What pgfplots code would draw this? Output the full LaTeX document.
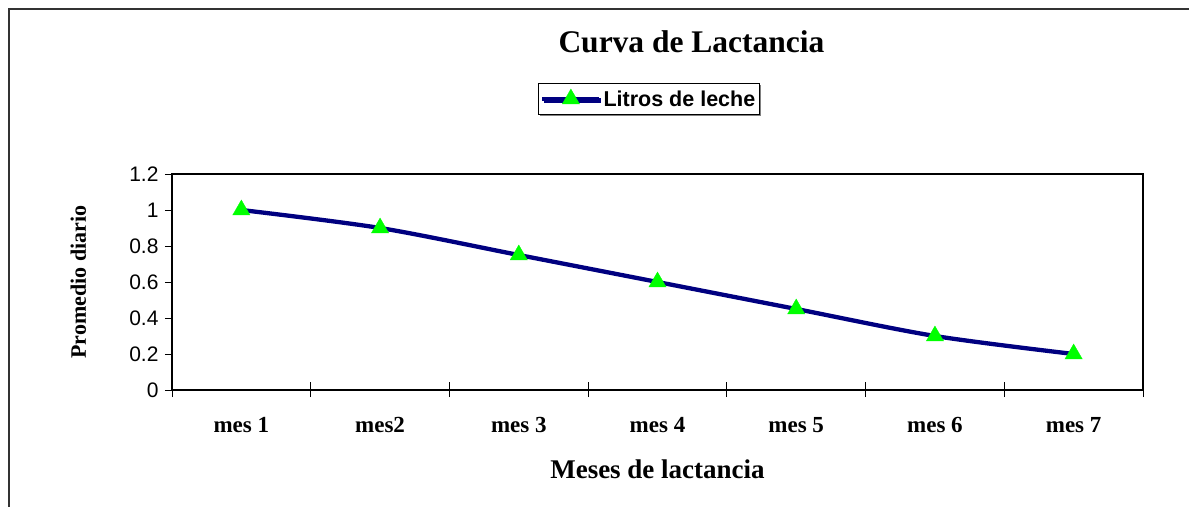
\documentclass[border=0pt]{standalone}
\usepackage{fontspec}
\setmainfont{Liberation Serif}
\newfontfamily\arial{Liberation Sans}
\usepackage{pgfplots}
\pgfplotsset{compat=1.18}
\usetikzlibrary{shadows}
\definecolor{lnavy}{RGB}{0,0,128}
\definecolor{lgreen}{RGB}{0,255,0}
\begin{document}
\begin{tikzpicture}
\useasboundingbox (0,0) rectangle (1189bp,507bp);
\draw[black!80, line width=1.8bp] (9bp,0) -- (9bp,498bp) -- (1189bp,498bp);
\begin{axis}[
  at={(172bp,117bp)}, anchor=south west,
  scale only axis, width=971bp, height=216bp,
  xmin=0.5, xmax=7.5, ymin=0, ymax=1.2,
  axis line style={line width=1.3bp},
  xtick={1,2,3,4,5,6,7},
  xticklabels={mes 1, mes2, mes 3, mes 4, mes 5, mes 6, mes 7},
  major x tick style={draw=none},
  minor xtick={0.5,1.5,2.5,3.5,4.5,5.5,6.5,7.5},
  minor tick length=15bp,
  minor x tick style={yshift=8bp, line width=0.8bp, black},
  ytick={0,0.2,0.4,0.6,0.8,1,1.2},
  major tick length=7bp,
  y tick style={line width=0.8bp, black},
  tick align=outside,
  xtick pos=bottom, ytick pos=left,
  /pgf/number format/assume math mode=true,
  yticklabel style={font=\arial\fontsize{21bp}{24bp}\selectfont, xshift=-3bp},
  xticklabel style={font=\bfseries\fontsize{23bp}{26bp}\selectfont, anchor=base, yshift=-35bp},
  xlabel={Meses de lactancia},
  xlabel style={at={(axis description cs:0.5,0)}, anchor=base, yshift=-88bp, font=\bfseries\fontsize{27bp}{30bp}\selectfont},
  ylabel={Promedio diario},
  ylabel style={at={(axis description cs:-0.0886,0.5)}, anchor=base, rotate=0, font=\bfseries\fontsize{22bp}{26bp}\selectfont},
  title={Curva de Lactancia},
  title style={at={(axis description cs:0.535,1.535)}, anchor=base, font=\bfseries\fontsize{31.5bp}{36bp}\selectfont},
  legend style={at={(axis description cs:0.491,1.421)}, anchor=north, draw=black, line width=0.8bp,
    font=\arial\bfseries\fontsize{21.5bp}{24bp}\selectfont, fill=white, inner ysep=5bp, inner xsep=2bp,
    drop shadow={shadow xshift=1.5bp, shadow yshift=-1.5bp, fill=gray, opacity=1}},
  legend image code/.code={\draw[mark repeat=2, mark phase=2, #1] plot coordinates {(0bp,0bp) (28.5bp,0bp) (57bp,0bp)};},
]
\addplot[lnavy, line width=4.3bp, smooth, tension=0.5, mark=triangle*, mark size=10bp,
  mark options={solid, fill=lgreen, draw=lgreen, line width=0.3bp}]
  coordinates {(1,1.0) (2,0.9) (3,0.75) (4,0.6) (5,0.45) (6,0.3) (7,0.2)};
\addlegendentry{Litros de leche}
\end{axis}
\end{tikzpicture}
\end{document}
